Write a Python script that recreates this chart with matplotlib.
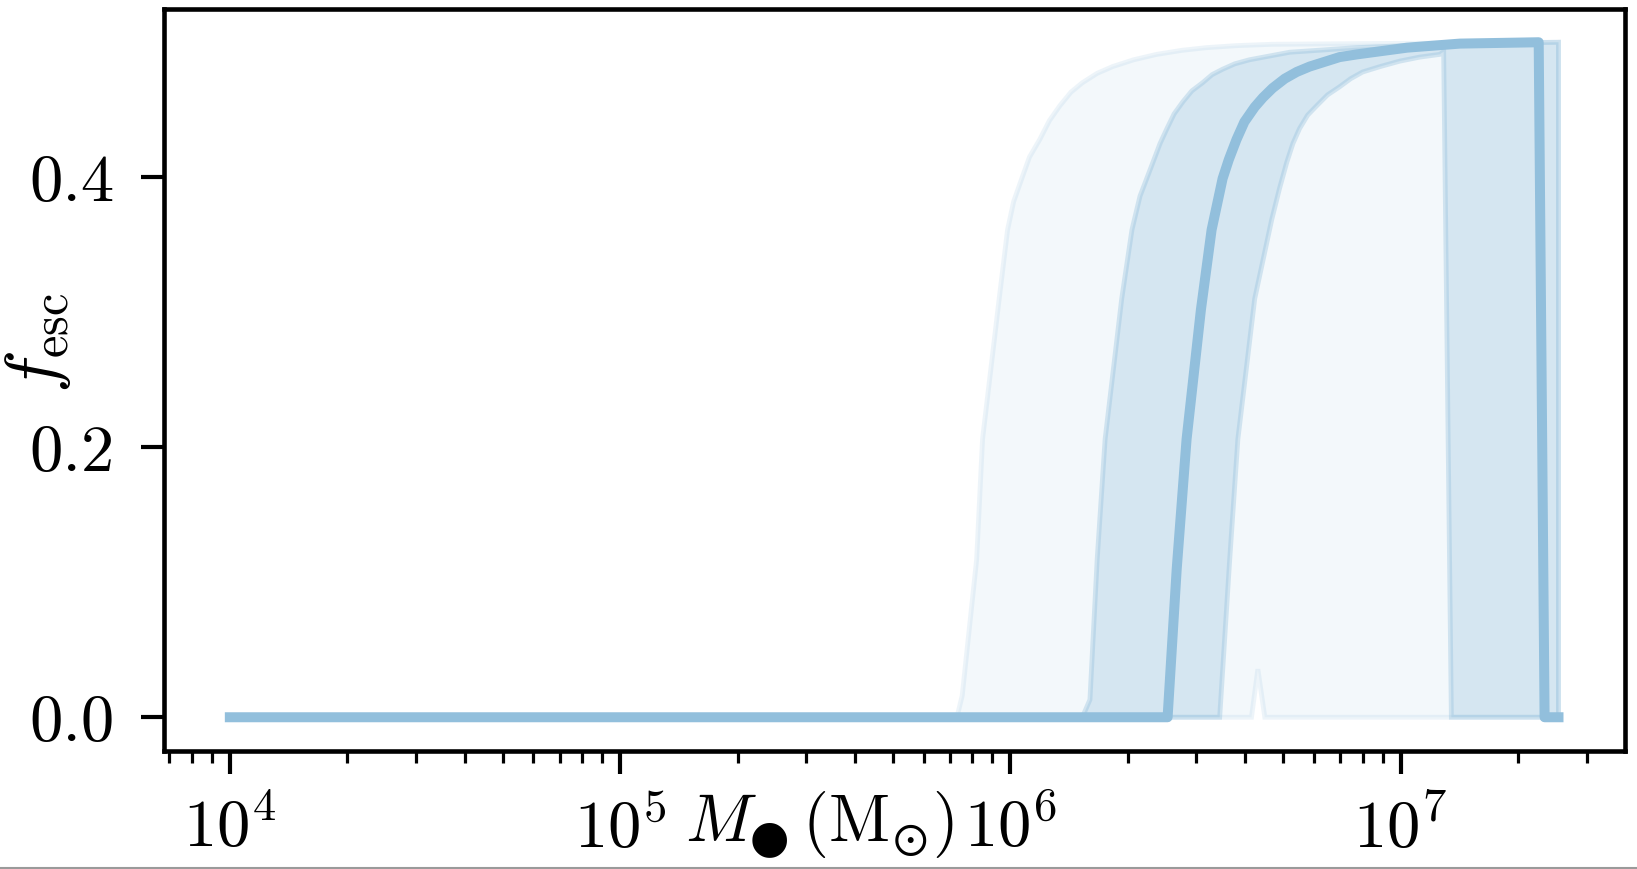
import matplotlib; matplotlib.use("Agg")
import matplotlib.pyplot as plt
from matplotlib.lines import Line2D
import numpy as np

plt.rcParams.update({
    "font.family": "serif", "font.serif": ["cmr10"], "mathtext.fontset": "cm",
    "axes.formatter.use_mathtext": True, "axes.unicode_minus": False,
    "font.size": 48,
})

# black hole mass (Msun) and escape fraction
med_m = [1.0e4, 2.53e6, 2.67e6, 2.83e6, 3.08e6, 3.28e6, 3.50e6, 3.63e6, 3.80e6, 3.98e6,
         4.23e6, 4.44e6, 4.70e6, 5.05e6, 5.42e6, 5.85e6, 6.31e6, 6.98e6, 7.73e6, 1.04e7,
         1.42e7, 2.26e7, 2.34e7, 2.54e7]
med_f = [0.0, 0.0, 0.110, 0.206, 0.302, 0.361, 0.399, 0.413, 0.428, 0.441,
         0.452, 0.459, 0.466, 0.473, 0.478, 0.482, 0.485, 0.489, 0.491, 0.496,
         0.499, 0.500, 0.0, 0.0]

# 68% band
in_hi_m = [1.0e4, 1.53e6, 1.60e6, 1.67e6, 1.75e6, 1.93e6, 2.05e6, 2.15e6, 2.32e6, 2.42e6,
           2.52e6, 2.63e6, 2.77e6, 2.92e6, 3.11e6, 3.29e6, 3.50e6, 3.76e6, 4.10e6, 5.20e6,
           7.73e6, 1.26e7, 2.54e7]
in_hi_f = [0.0, 0.0, 0.013, 0.117, 0.206, 0.310, 0.361, 0.386, 0.411, 0.425,
           0.436, 0.447, 0.456, 0.464, 0.470, 0.476, 0.480, 0.484, 0.487, 0.4926,
           0.496, 0.4985, 0.500]
in_lo_m = [1.0e4, 3.44e6, 3.65e6, 3.83e6, 4.23e6, 4.68e6, 4.90e6, 5.11e6, 5.30e6, 5.51e6,
           5.78e6, 6.10e6, 6.50e6, 6.98e6, 7.45e6, 8.00e6, 8.87e6, 9.95e6, 1.12e7, 1.26e7,
           1.29e7, 1.35e7, 2.54e7]
in_lo_f = [0.0, 0.0, 0.117, 0.206, 0.310, 0.369, 0.392, 0.411, 0.425, 0.436,
           0.446, 0.453, 0.461, 0.467, 0.473, 0.478, 0.482, 0.486, 0.489, 0.491,
           0.493, 0.0, 0.0]

# 95% band
out_hi_m = [1.0e4, 7.30e5, 7.53e5, 8.20e5, 8.49e5, 9.33e5, 9.84e5, 1.02e6, 1.07e6, 1.12e6,
            1.19e6, 1.26e6, 1.34e6, 1.43e6, 1.53e6, 1.67e6, 1.83e6, 2.07e6, 2.37e6, 2.75e6,
            3.18e6, 3.80e6, 4.70e6, 2.54e7]
out_hi_f = [0.0, 0.0, 0.016, 0.117, 0.206, 0.306, 0.361, 0.382, 0.399, 0.415,
            0.428, 0.442, 0.453, 0.463, 0.470, 0.477, 0.482, 0.487, 0.491, 0.494,
            0.496, 0.4975, 0.4985, 0.500]
out_lo_m = [1.0e4, 4.15e6, 4.31e6, 4.49e6, 2.54e7]
out_lo_f = [0.0, 0.0, 0.0356, 0.0, 0.0]

col = "#92bfdc"
fig = plt.figure(figsize=(16.37, 8.69), dpi=100)
ax = fig.add_axes([163.5 / 1637, 118 / 869, 1461 / 1637, 742.5 / 869])
ax.set_xscale("log")

ax.fill(np.r_[out_hi_m, out_lo_m[::-1]], np.r_[out_hi_f, out_lo_f[::-1]],
        facecolor=(0.573, 0.749, 0.863, 0.1), edgecolor=(0.573, 0.749, 0.863, 0.16), lw=3.5)
ax.fill(np.r_[in_hi_m, in_lo_m[::-1]], np.r_[in_hi_f, in_lo_f[::-1]],
        facecolor=(0.573, 0.749, 0.863, 0.3), edgecolor=(0.573, 0.749, 0.863, 0.36), lw=3.5)
ax.plot(med_m, med_f, color=col, lw=7.2)
ax.set_xlim(10**3.830, 10**7.574)
ax.set_ylim(-0.025, 0.525)

ax.set_yticks([0, 0.2, 0.4])
ax.set_yticklabels(["0.0", "0.2", "0.4"])
for s in ax.spines.values():
    s.set_linewidth(3.3)
ax.tick_params(which="major", length=16.5, width=3.0)
ax.tick_params(which="minor", length=8.5, width=2.3)
ax.tick_params(axis="y", pad=19)
ax.tick_params(axis="x", which="major", pad=17)

ax.set_xlabel("$M_{●}\\,(\\mathrm{M}_{⊙})$")
ax.xaxis.set_label_coords(0.449, -0.052)
ax.set_ylabel(r"$f_\mathrm{esc}$", fontsize=52)
ax.yaxis.set_label_coords(-0.062, 0.55)

fig.add_artist(Line2D([0, 1], [1.2 / 869, 1.2 / 869], transform=fig.transFigure,
                      color="#9a9a9a", lw=1.5))
fig.savefig("out.png", dpi=100)
